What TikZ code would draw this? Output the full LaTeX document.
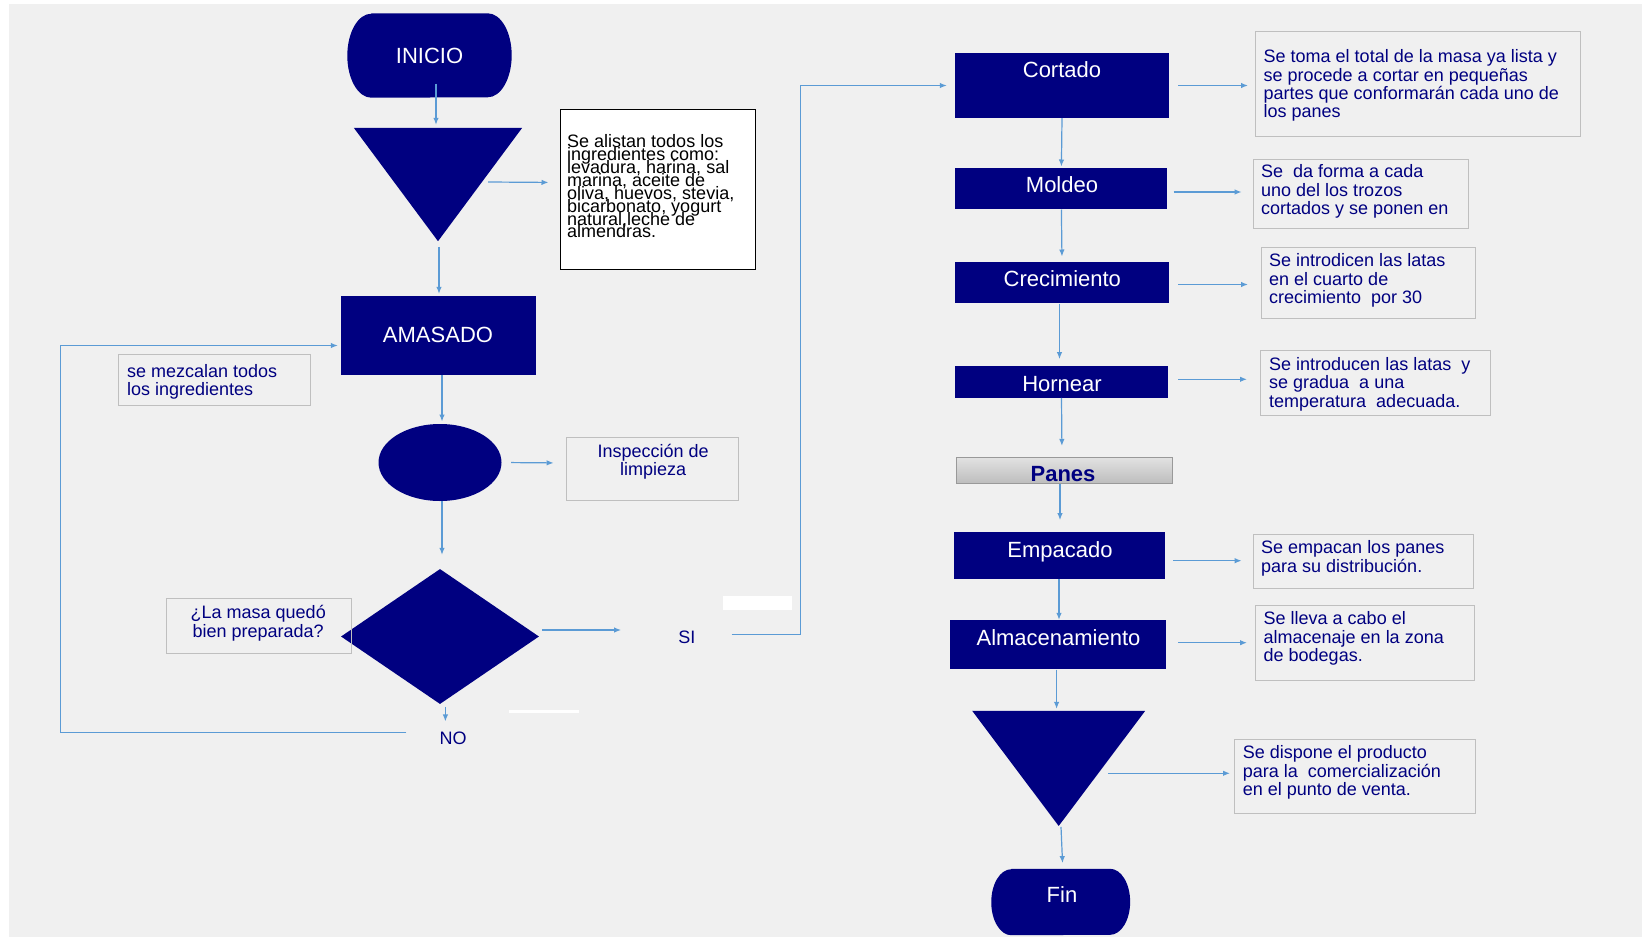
\documentclass[tikz,border=0pt]{standalone}
\usepackage{fontspec}
\setmainfont{Liberation Sans}
\usetikzlibrary{positioning, arrows.meta, shapes.geometric, calc}
\definecolor{flownavy}{HTML}{000080}
\definecolor{bggray}{HTML}{F0F0F0}
\definecolor{boxgray}{HTML}{BFBFBF}
\definecolor{lineblue}{HTML}{5B9BD5}
\definecolor{panetop}{HTML}{E2E2E2}
\definecolor{panebot}{HTML}{BDBDBD}
\newcommand{\tightlines}{\lineskiplimit=-100pt\relax\lineskip=0pt\relax}

\begin{document}
\begin{tikzpicture}[
  x=1pt, y=-1pt,
  place/.style={rectangle, inner sep=0pt},
  proc/.style={rectangle, fill=flownavy, inner sep=0pt},
  ttl/.style={text=white, font=\fontsize{22}{26}\selectfont,
    inner sep=0pt, text height=15.75pt, text depth=0pt},
  lbl/.style={text=flownavy, font=\fontsize{18}{20}\selectfont,
    inner sep=0pt, text height=12.9pt, text depth=0pt},
  note/.style={rectangle, draw=boxgray, line width=1pt, inner sep=0pt,
    anchor=north west},
  notetext/.style={text=flownavy, align=left, anchor=north west, inner sep=0pt,
    font={\fontsize{18}{18.4}\selectfont\tightlines}},
  arr/.style={-{Latex[length=7pt,width=5.5pt]}, line width=1.2pt, draw=lineblue},
]
\useasboundingbox (0,0) rectangle (1642,937);
\fill[white] (0,0) rectangle (1642,937);
\fill[bggray] (9,4) rectangle (1642,937);
\fill[white] (723,596) rectangle (792,610);
\fill[white] (509,710) rectangle (579,712.5);

% Left column
\node[place, minimum width=164pt, minimum height=84pt] (inicio) at (429.5,55.5) {};
\fill[flownavy] ([xshift=24pt]inicio.north west) -- ([xshift=-24pt]inicio.north east)
  arc[start angle=90, end angle=-90, x radius=24pt, y radius=42pt]
  -- ([xshift=24pt]inicio.south west)
  arc[start angle=270, end angle=90, x radius=24pt, y radius=42pt] -- cycle;
\node[ttl] (iniciot) at (inicio) {INICIO};

\node[place, minimum width=168pt, minimum height=113pt] (tri1) at (438,184.5) {};
\fill[flownavy] (tri1.north west) -- (tri1.north east) -- (tri1.south) -- cycle;

\node[note, draw=black, fill=white, minimum width=195pt, minimum height=160pt]
  (ingr) at (560,109) {};
\node[notetext, text=black, font={\fontsize{18}{12.9}\selectfont\tightlines}]
  (ingrt) at ([xshift=7pt,yshift=-25.4pt]ingr.north west) {
  Se alistan todos los\\
  ingredientes como:\\
  levadura, harina, sal\\
  marina, aceite de\\
  oliva, huevos, stevia,\\
  bicarbonato, yogurt\\
  natural,leche de\\
  almendras.
};

\node[proc, minimum width=195pt, minimum height=79pt] (amasado) at (438.5,335.5) {};
\node[ttl] (amasadot) at (438,335) {AMASADO};

\node[note, minimum width=192pt, minimum height=51pt] (mezcla) at (118,354) {};
\node[notetext, font={\fontsize{18}{17.6}\selectfont\tightlines}]
  (mezclat) at ([xshift=9pt,yshift=-10.4pt]mezcla.north west)
  {se mezcalan todos\\los ingredientes};

\node[ellipse, fill=flownavy, minimum width=123pt, minimum height=77pt,
  inner sep=0pt] (insp) at (440,462.5) {};

\node[note, minimum width=172pt, minimum height=63pt] (limp) at (566,437) {};
\node[notetext, align=center, anchor=north,
  font={\fontsize{18}{17.6}\selectfont\tightlines}]
  (limpt) at ([xshift=0.6pt,yshift=-7.4pt]limp.north) {Inspección de\\limpieza};

\node[diamond, fill=flownavy, minimum width=198pt, minimum height=135pt,
  inner sep=0pt] (dec) at (440,636.5) {};

\node[note, minimum width=184.5pt, minimum height=55pt] (preg) at (166,598) {};
\node[notetext, align=center, anchor=north]
  (pregt) at ([xshift=-0.5pt,yshift=-7.4pt]preg.north) {¿La masa quedó\\bien preparada?};

\node[lbl] (si) at (686.8,636.7) {SI};
\node[lbl] (no) at (453,738.3) {NO};

% Right column
\node[proc, minimum width=214pt, minimum height=65pt] (cortado) at (1062,85.5) {};
\node[ttl] (cortadot) at (1062,70) {Cortado};
\node[proc, minimum width=212pt, minimum height=41.6pt] (moldeo) at (1061.4,188.5) {};
\node[ttl] (moldeot) at (1062,184.3) {Moldeo};
\node[proc, minimum width=214pt, minimum height=41.6pt] (crec) at (1062,282.5) {};
\node[ttl] (crect) at (1062.3,278.7) {Crecimiento};
\node[proc, minimum width=213pt, minimum height=31.4pt] (horno) at (1061.5,382) {};
\node[ttl] (hornot) at (1062,383.3) {Hornear};
\node[rectangle, draw=boxgray!80!black, line width=0.8pt, top color=panetop,
  bottom color=panebot, minimum width=216pt, minimum height=26pt, inner sep=0pt]
  (panes) at (1064,470.3) {};
\node[ttl, text=flownavy, font=\bfseries\fontsize{22}{26}\selectfont]
  (panest) at (1063,473.3) {Panes};
\node[proc, minimum width=211pt, minimum height=46.4pt] (empaq) at (1059,555.5) {};
\node[ttl] (empaqt) at (1060,549.3) {Empacado};
\node[proc, minimum width=216pt, minimum height=49.3pt] (almac) at (1057.9,644.7) {};
\node[ttl] (almact) at (1058.5,637.3) {Almacenamiento};

\node[place, minimum width=172.6pt, minimum height=114.7pt] (tri2) at (1058.7,768.4) {};
\fill[flownavy] (tri2.north west) -- (tri2.north east) -- (tri2.south) -- cycle;

\node[place, minimum width=138.5pt, minimum height=66pt] (fin) at (1060.7,902) {};
\fill[flownavy] ([xshift=20pt]fin.north west) -- ([xshift=-20pt]fin.north east)
  arc[start angle=90, end angle=-90, x radius=20pt, y radius=33pt]
  -- ([xshift=20pt]fin.south west)
  arc[start angle=270, end angle=90, x radius=20pt, y radius=33pt] -- cycle;
\node[ttl] (fint) at (1062,895) {Fin};

% Notes
\node[note, minimum width=324.6pt, minimum height=105.3pt] (n1) at (1255,31) {};
\node[notetext] (n1t) at ([xshift=8.5pt,yshift=-18.4pt]n1.north west) {
  Se toma el total de la masa ya lista y\\
  se procede a cortar en pequeñas\\
  partes que conformarán cada uno de\\
  los panes};
\node[note, minimum width=215.3pt, minimum height=69.6pt] (n2) at (1252.6,158.7) {};
\node[notetext] (n2t) at ([xshift=8.4pt,yshift=-5.7pt]n2.north west) {
  Se~ da forma a cada\\
  uno del los trozos\\
  cortados y se ponen en};
\node[note, minimum width=214.4pt, minimum height=70.4pt] (n3) at (1260.6,247.3) {};
\node[notetext] (n3t) at ([xshift=8.4pt,yshift=-6.1pt]n3.north west) {
  Se introdicen las latas\\
  en el cuarto de\\
  crecimiento~ por 30};
\node[note, minimum width=230pt, minimum height=64.7pt] (n4) at (1260,350.3) {};
\node[notetext] (n4t) at ([xshift=9pt,yshift=-6.7pt]n4.north west) {
  Se introducen las latas~ y\\
  se gradua~ a una\\
  temperatura~ adecuada.};
\node[note, minimum width=220.4pt, minimum height=54.3pt] (n5) at (1252.6,533.7) {};
\node[notetext] (n5t) at ([xshift=8.4pt,yshift=-6.7pt]n5.north west) {
  Se empacan los panes\\
  para su distribución.};
\node[note, minimum width=219pt, minimum height=74.7pt] (n6) at (1255,605.3) {};
\node[notetext] (n6t) at ([xshift=8.5pt,yshift=-6.4pt]n6.north west) {
  Se lleva a cabo el\\
  almacenaje en la zona\\
  de bodegas.};
\node[note, minimum width=241pt, minimum height=73.4pt] (n7) at (1234,739.3) {};
\node[notetext] (n7t) at ([xshift=8.6pt,yshift=-6.1pt]n7.north west) {
  Se dispone el producto\\
  para la~ comercialización\\
  en el punto de venta.};

% Connectors, left
\draw[arr] ([xshift=6.5pt,yshift=14pt]inicio.south) -- ([xshift=-2pt,yshift=3pt]tri1.north);
\draw[arr, shorten >=11.5pt] ([xshift=50pt,yshift=2.5pt]tri1.center)
  -- ([yshift=7pt]ingr.west);
\draw[arr, shorten >=2pt] ([xshift=1pt,yshift=-5.7pt]tri1.south) -- ([xshift=0.5pt]amasado.north);
\draw[arr] ([xshift=-33pt,yshift=6pt]no.west) -- ++(-346,0)
  |- ([xshift=-3pt,yshift=-10pt]amasado.west);
\draw[arr, shorten >=2.3pt] ([xshift=3.5pt]amasado.south) -- ([xshift=2pt]insp.north);
\draw[arr, shorten <=9.5pt, shorten >=12.4pt] (insp.east) -- ([yshift=6pt]limp.west);
\draw[arr, shorten >=14pt] ([xshift=2pt]insp.south) -- ([xshift=2pt]dec.north);
\draw[arr] ([xshift=3pt,yshift=6.5pt]dec.east) -- ([xshift=-57pt,yshift=6.7pt]si.west);
\draw[arr, shorten >=8pt] ([xshift=36pt,yshift=2.4pt]si.east) -- ++(69,0) |- (cortado.west);
\draw[arr] ([xshift=5.4pt,yshift=-2.7pt]dec.south) -- ([xshift=-7.6pt,yshift=10.2pt]no.north);

% Connectors, right
\draw[arr, shorten >=1pt] (cortado.south) -- (moldeo.north);
\draw[arr, shorten >=5pt] (moldeo.south) -- (crec.north);
\draw[arr, shorten >=7pt] ([xshift=-2.5pt]crec.south) -- ([xshift=-2pt]horno.north);
\draw[arr, shorten >=11pt] (horno.south) -- ([xshift=-2pt]panes.north);
\draw[arr, shorten >=12pt] ([xshift=-4pt]panes.south) -- ([xshift=1pt]empaq.north);
\draw[arr] (empaq.south) -- ([xshift=1.1pt]almac.north);
\draw[arr, shorten >=2pt] ([xshift=-1.3pt]almac.south) -- ([xshift=-2.1pt]tri2.north);
\draw[arr, shorten >=5.7pt] ([xshift=2.3pt,yshift=-1pt]tri2.south) -- ([xshift=2.1pt]fin.north);

\draw[arr, shorten <=9pt, shorten >=7pt] (cortado.east) -- (cortado.east -| n1.west);
\draw[arr, shorten <=6pt, shorten >=11pt] ($(moldeo.east)+(0,3.5)$)
  -- ($(moldeo.east -| n2.west)+(0,3.5)$);
\draw[arr, shorten <=9pt, shorten >=12.6pt] ($(crec.east)+(0,2)$)
  -- ($(crec.east -| n3.west)+(0,2)$);
\draw[arr, shorten <=10pt, shorten >=13pt] ($(horno.east)+(0,-2.7)$)
  -- ($(horno.east -| n4.west)+(0,-2.7)$);
\draw[arr, shorten <=8.5pt, shorten >=11pt] ($(empaq.east)+(0,5.2)$)
  -- ($(empaq.east -| n5.west)+(0,5.2)$);
\draw[arr, shorten <=12pt, shorten >=8pt] ($(almac.east)+(0,-2)$)
  -- ($(almac.east -| n6.west)+(0,-2)$);
\draw[arr, shorten >=4pt] ($(tri2.center)+(49.3,4.9)$)
  -- ($(tri2.center -| n7.west)+(0,4.9)$);

\end{tikzpicture}
\end{document}
